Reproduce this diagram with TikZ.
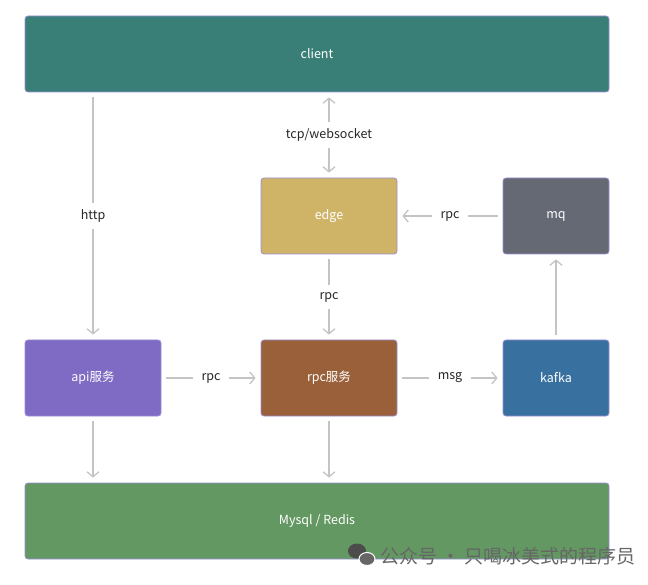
\documentclass[tikz,border=0pt]{standalone}
\usepackage{fontspec}
\setmainfont{Noto Sans CJK SC}
\usetikzlibrary{arrows.meta}
\definecolor{clientc}{HTML}{3A7F77}
\definecolor{edgec}{HTML}{CFB468}
\definecolor{mqc}{HTML}{646973}
\definecolor{apic}{HTML}{7F6BC3}
\definecolor{rpcc}{HTML}{99603A}
\definecolor{kafkac}{HTML}{38709F}
\definecolor{dbc}{HTML}{649863}
\definecolor{rimc}{HTML}{9B8FD6}
\definecolor{linec}{HTML}{C4C4C4}
\tikzset{%
  >={Straight Barb[length=5pt,width=12pt,line width=1.3pt]},
            base/.style = {rectangle, rounded corners=3pt, draw=rimc, line width=0.8pt,
                           minimum height=76pt, text=white,
                           text centered, font=\fontsize{12.5}{15}\selectfont},
  wide/.style  = {base, minimum width=584pt},
  mid/.style   = {base, minimum width=136pt},
  small/.style = {base, minimum width=106pt},
  link/.style  = {draw=linec, line width=1.3pt},
  tag/.style   = {fill=white, text=black!85, inner xsep=9pt, inner ysep=7pt,
                  font=\fontsize{12.5}{15}\selectfont},
}
\begin{document}
\begin{tikzpicture}[x=1pt, y=-1pt]
  \useasboundingbox (0,0) rectangle (648,585);

  \node (client) [wide,  fill=clientc] at (317,54)  {client};
  \node (edge)   [mid,   fill=edgec]   at (329,216) {edge};
  \node (mq)     [small, fill=mqc]     at (556,216) {mq};
  \node (api)    [mid,   fill=apic]    at (93,378)  {api服务};
  \node (rpc)    [mid,   fill=rpcc]    at (329,378) {rpc服务};
  \node (kafka)  [small, fill=kafkac]  at (556,378) {kafka};
  \node (db)     [wide,  fill=dbc]     at (317,521) {Mysql / Redis};

  \draw[link, <->, shorten <=5pt, shorten >=5pt] (client.south -| edge) -- node[tag] {tcp/websocket} (edge);
  \draw[link, ->,  shorten <=5pt, shorten >=5pt] (client.south -| api) -- node[tag] {http} (api);
  \draw[link, ->,  shorten <=5pt, shorten >=5pt] (edge) -- node[tag] {rpc} (rpc);
  \draw[link, ->,  shorten <=5pt, shorten >=5pt] (mq) -- node[tag] {rpc} (edge);
  \draw[link, ->,  shorten <=5pt, shorten >=5pt] (api) -- node[tag] {rpc} (rpc);
  \draw[link, ->,  shorten <=5pt, shorten >=5pt] (rpc) -- node[tag] {msg} (kafka);
  \draw[link, ->,  shorten <=5pt, shorten >=5pt] (kafka) -- (mq);
  \draw[link, ->,  shorten <=5pt, shorten >=5pt] (api) -- (db.north -| api);
  \draw[link, ->,  shorten <=5pt, shorten >=5pt] (rpc) -- (db.north -| rpc);

  % watermark
  \fill[black!70] (357,551) ellipse (9pt and 7.5pt);
  \fill[black!60, draw=white, line width=1pt] (367,559) ellipse (8pt and 6.5pt);
  \node (mark) [anchor=west, text=black!60, inner sep=0pt, font=\fontsize{19}{21}\selectfont]
    at (380,556) {公众号 · 只喝冰美式的程序员};
\end{tikzpicture}
\end{document}
